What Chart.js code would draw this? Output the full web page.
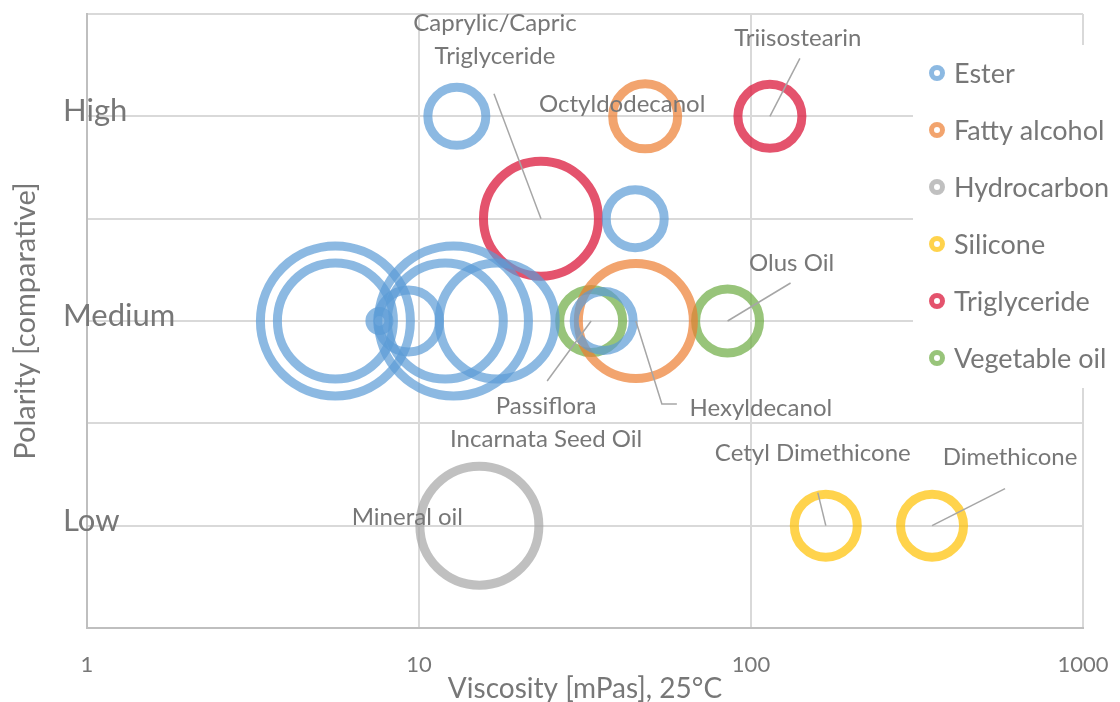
<!DOCTYPE html>
<html>
<head>
<meta charset="utf-8">
<script src="https://cdn.jsdelivr.net/npm/chart.js@4.4.1/dist/chart.umd.min.js"></script>
<style>
  html, body { margin: 0; padding: 0; background: #fff; }
  #wrap { width: 1120px; height: 702px; }
</style>
</head>
<body>
<div id="wrap"><canvas id="oilChart" width="1120" height="702"></canvas></div>
<script>
// ---- data ----
const seriesNames = ['Ester', 'Fatty alcohol', 'Hydrocarbon', 'Silicone', 'Triglyceride', 'Vegetable oil'];

// viscosity [mPas], polarity level (1 = Low, 3 = Medium, 5 = High), bubble size
const esterViscosity = [13.0, 44.8, 5.6, 5.6, 7.6, 9.3, 12.7, 12.0, 17.2, 36];
const esterPolarity  = [5, 4, 3, 3, 3, 3, 3, 3, 3, 3];
const esterSize      = [29, 29, 75, 58, 9.5, 31, 75, 58, 58, 29.5];
const esterNames     = ['', '', '', '', '', '', '', '', '', ''];

const fattyViscosity = [48, 45];
const fattyPolarity  = [5, 3];
const fattySize      = [32.5, 57.5];
const fattyNames     = ['Octyldodecanol', 'Hexyldecanol'];

const hydroViscosity = [15.2];
const hydroPolarity  = [1];
const hydroSize      = [59.5];
const hydroNames     = ['Mineral oil'];

const siliconeViscosity = [168, 351];
const siliconePolarity  = [1, 1];
const siliconeSize      = [31.5, 31.5];
const siliconeNames     = ['Cetyl Dimethicone', 'Dimethicone'];

const trigViscosity = [23.3, 114];
const trigPolarity  = [4, 5];
const trigSize      = [57.5, 32];
const trigNames     = ['Caprylic/Capric Triglyceride', 'Triisostearin'];

const vegViscosity = [33, 85];
const vegPolarity  = [3, 3];
const vegSize      = [31.5, 32];
const vegNames     = ['Passiflora Incarnata Seed Oil', 'Olus Oil'];

const xTickValues = [1, 10, 100, 1000];
const polarityTickValues = [1, 3, 5];
const polarityTickLabels = ['Low', 'Medium', 'High'];

// ---- styling ----
const FONT = 'Lato';
const TEXT = '#777777';
const colors = [
  'rgba(91,155,213,0.7)',
  'rgba(237,125,49,0.7)',
  'rgba(165,165,165,0.7)',
  'rgba(255,192,0,0.7)',
  'rgba(219,25,60,0.75)',
  'rgba(112,173,71,0.72)'
];

function points(xs, ys, rs) {
  return xs.map((x, i) => ({ x: x, y: ys[i], r: rs[i] }));
}

const allData = [
  points(esterViscosity, esterPolarity, esterSize),
  points(fattyViscosity, fattyPolarity, fattySize),
  points(hydroViscosity, hydroPolarity, hydroSize),
  points(siliconeViscosity, siliconePolarity, siliconeSize),
  points(trigViscosity, trigPolarity, trigSize),
  points(vegViscosity, vegPolarity, vegSize)
];
const allNames = [esterNames, fattyNames, hydroNames, siliconeNames, trigNames, vegNames];

// label placement relative to the bubble centre (pixels)
const callouts = [
  { s: 4, i: 0, dx: -46, dy: -195, wrap: true, line: [[-47, -125]] },
  { s: 1, i: 0, dx: -23, dy: -12 },
  { s: 4, i: 1, dx: 28, dy: -78, line: [[30, -58]] },
  { s: 5, i: 1, dx: 64, dy: -58, line: [[63, -38]] },
  { s: 5, i: 0, dx: -45, dy: 85, wrap: true, line: [[-44, 60]] },
  { s: 1, i: 1, dx: 125, dy: 87, line: [[26, 83], [41, 83]] },
  { s: 2, i: 0, dx: -72, dy: -8 },
  { s: 3, i: 0, dx: -13, dy: -72, line: [[-8, -33]] },
  { s: 3, i: 1, dx: 78, dy: -68, line: [[73, -37]] }
];

const calloutPlugin = {
  id: 'callouts',
  afterDatasetsDraw(chart) {
    const ctx = chart.ctx;
    ctx.save();
    callouts.forEach(c => {
      const el = chart.getDatasetMeta(c.s).data[c.i];
      const px = el.x, py = el.y;
      if (c.line) {
        ctx.strokeStyle = '#a6a6a6';
        ctx.lineWidth = 1.5;
        ctx.beginPath();
        ctx.moveTo(px, py);
        c.line.forEach(p => ctx.lineTo(px + p[0], py + p[1]));
        ctx.stroke();
      }
      const name = allNames[c.s][c.i];
      let lines = [name];
      if (c.wrap) {
        const cut = name.indexOf(' ');
        lines = [name.slice(0, cut), name.slice(cut + 1)];
      }
      ctx.fillStyle = TEXT;
      ctx.font = '24px ' + FONT;
      ctx.textAlign = 'center';
      ctx.textBaseline = 'middle';
      lines.forEach((t, k) => ctx.fillText(t, px + c.dx, py + c.dy + k * 33));
    });
    ctx.restore();
  }
};

const legendPlugin = {
  id: 'sideLegend',
  afterDraw(chart) {
    const ctx = chart.ctx;
    ctx.save();
    ctx.fillStyle = '#ffffff';
    ctx.fillRect(913, 45, 207, 343);
    ctx.font = '27px ' + FONT;
    ctx.textAlign = 'left';
    ctx.textBaseline = 'middle';
    seriesNames.forEach((n, k) => {
      const y = 73 + k * 57;
      ctx.beginPath();
      ctx.arc(937, y, 5.5, 0, Math.PI * 2);
      ctx.strokeStyle = colors[k];
      ctx.lineWidth = 5;
      ctx.stroke();
      ctx.fillStyle = TEXT;
      ctx.fillText(n, 954, y + 1);
    });
    ctx.restore();
  }
};

new Chart(document.getElementById('oilChart'), {
  type: 'bubble',
  data: {
    datasets: seriesNames.map((n, k) => ({
      label: n,
      data: allData[k],
      backgroundColor: 'rgba(255,255,255,0)',
      borderColor: colors[k],
      hoverBorderColor: colors[k],
      borderWidth: 9,
      hoverBorderWidth: 9
    }))
  },
  options: {
    responsive: false,
    devicePixelRatio: 1,
    animation: false,
    layout: { autoPadding: false, padding: { top: 14, right: 37, bottom: 0, left: 0 } },
    plugins: {
      legend: { display: false },
      tooltip: { enabled: false }
    },
    scales: {
      x: {
        type: 'logarithmic',
        min: 1,
        max: 1000,
        afterBuildTicks: (scale) => { scale.ticks = xTickValues.map(v => ({ value: v })); },
        afterFit: (scale) => {
          scale.height = 74;
          scale.paddingLeft = 0;
          scale.paddingRight = 0;
        },
        ticks: {
          color: TEXT,
          font: { family: FONT, size: 22 },
          padding: 24,
          maxRotation: 0,
          callback: (v) => String(v)
        },
        grid: { color: '#d9d9d9', lineWidth: 2, drawTicks: false },
        border: { color: '#bfbfbf', width: 2 },
        title: {
          display: true,
          text: 'Viscosity [mPas], 25°C',
          color: TEXT,
          font: { family: FONT, size: 28 },
          padding: { top: 0, bottom: -4 }
        }
      },
      y: {
        min: 0,
        max: 6,
        afterFit: (scale) => {
          scale.width = 87;
          scale.paddingTop = 0;
          scale.paddingBottom = 0;
        },
        ticks: {
          stepSize: 1,
          mirror: true,
          padding: -24,
          labelOffset: -5,
          color: TEXT,
          font: { family: FONT, size: 31 },
          callback: (v) => {
            const k = polarityTickValues.indexOf(v);
            return k >= 0 ? polarityTickLabels[k] : '';
          }
        },
        grid: { color: '#d9d9d9', lineWidth: 2, drawTicks: false },
        border: { color: '#bfbfbf', width: 2 },
        title: {
          display: true,
          text: 'Polarity [comparative]',
          color: TEXT,
          font: { family: FONT, size: 29 },
          padding: { top: 8, bottom: 0 }
        }
      }
    }
  },
  plugins: [calloutPlugin, legendPlugin]
});
</script>
</body>
</html>
